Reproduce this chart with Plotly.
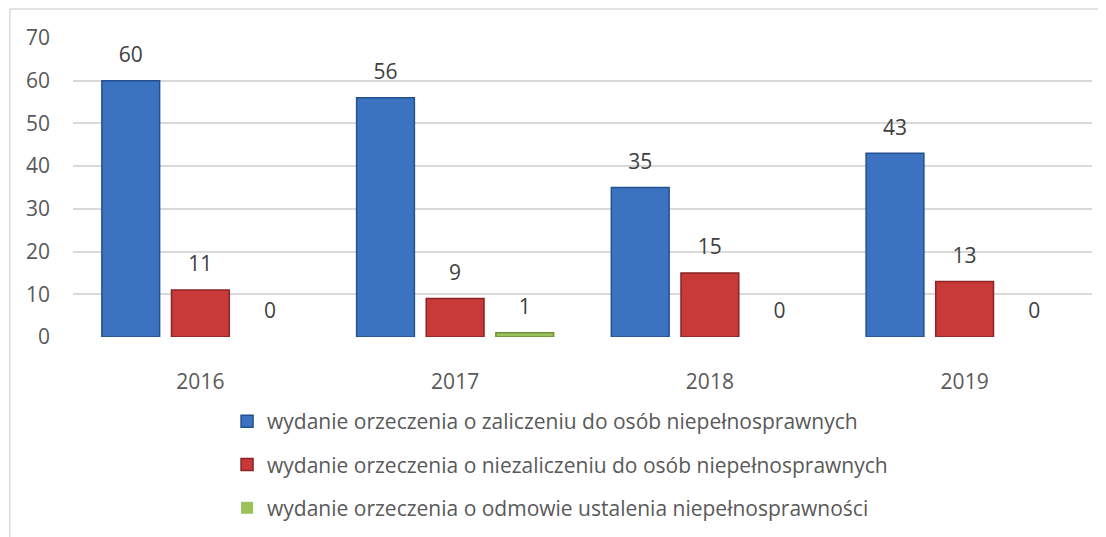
import plotly.graph_objects as go

years = ["2016", "2017", "2018", "2019"]
series_names = [
    "wydanie orzeczenia o zaliczeniu do osób niepełnosprawnych",
    "wydanie orzeczenia o niezaliczeniu do osób niepełnosprawnych",
    "wydanie orzeczenia o odmowie ustalenia niepełnosprawności",
]
zaliczenie = [60, 56, 35, 43]
niezaliczenie = [11, 9, 15, 13]
odmowa = [0, 1, 0, 0]
y_ticks = [0, 10, 20, 30, 40, 50, 60, 70]

fills = ["#3b73c0", "#c8393a", "#9bc25a"]
edges = ["#24508f", "#8c2325", "#6f9238"]
values = [zaliczenie, niezaliczenie, odmowa]

FONT = "Open Sans"
TXT = "#595959"
FS = 21

fig = go.Figure()
for i, (name, vals) in enumerate(zip(series_names, values)):
    fig.add_trace(go.Bar(
        x=years, y=vals, name=name,
        marker=dict(color=fills[i],
                    line=dict(color=edges[i], width=[1.5 if v > 0 else 0 for v in vals])),
        offsetgroup=str(i), legendgroup=str(i),
        hoverinfo="skip",
    ))
for i, vals in enumerate(values):
    fig.add_trace(go.Scatter(
        x=years, y=vals, mode="markers+text",
        text=[str(v) for v in vals], textposition="top center",
        textfont=dict(family=FONT, size=FS, color="#404040"),
        marker=dict(size=20, opacity=0),
        offsetgroup=str(i), showlegend=False, hoverinfo="skip",
        cliponaxis=False,
    ))

fig.update_layout(
    width=1098, height=529,
    margin=dict(l=65, r=14, t=30, b=200, autoexpand=False),
    paper_bgcolor="white", plot_bgcolor="white",
    barmode="group", bargap=0.18, bargroupgap=0.17,
    scattermode="group", scattergap=0.18,
    font=dict(family=FONT, size=FS, color=TXT),
    showlegend=True,
    legend=dict(
        orientation="v", xref="container", yref="container",
        x=0.1995, xanchor="left", y=0.257, yanchor="top",
        font=dict(family=FONT, size=FS, color=TXT),
        tracegroupgap=13, itemwidth=30,
        bgcolor="rgba(0,0,0,0)",
    ),
    xaxis=dict(
        type="category", showgrid=False, zeroline=False, showline=False,
        ticks="", ticklabelstandoff=30,
        tickfont=dict(family=FONT, size=FS, color=TXT),
    ),
    yaxis=dict(
        range=[0, 70], tickvals=y_ticks, showgrid=True,
        gridcolor="#d9d9d9", gridwidth=1.5, zeroline=False, showline=False,
        ticks="", ticklabelstandoff=22,
        tickfont=dict(family=FONT, size=FS, color=TXT),
    ),
    shapes=[
        dict(type="line", xref="paper", yref="paper", x0=-0.062, x1=1.02,
             y0=1.097, y1=1.097, line=dict(color="#d9d9d9", width=1.5)),
        dict(type="line", xref="paper", yref="paper", x0=-0.062, x1=-0.062,
             y0=1.097, y1=-0.7, line=dict(color="#d9d9d9", width=1.5)),
    ],
)

fig.write_html("out.html")
